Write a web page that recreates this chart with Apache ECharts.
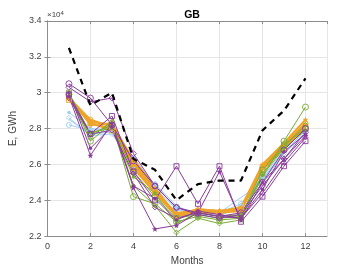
<!DOCTYPE html>
<html><head><meta charset="utf-8">
<script src="https://cdn.jsdelivr.net/npm/echarts@6/dist/echarts.min.js"></script>
<style>html,body{margin:0;padding:0;background:#fff}#c{width:361px;height:271px}</style>
</head><body><div id="c"></div>
<script>
const months = [1,2,3,4,5,6,7,8,9,10,11,12];
const xTicks = [0,2,4,6,8,10,12];
const yTicks = [2.2,2.4,2.6,2.8,3,3.2,3.4];
// black dashed reference
const ref = [32500,29300,30000,26300,25700,24000,24900,25100,25100,27900,29000,30800];
// purple group
const p1 = [30500,29700,28200,26200,24800,23600,23300,23100,23300,25000,26800,28000];
const p2 = [30300,29500,29700,26600,24800,23600,23200,23000,23200,24800,26300,27800];
const p3 = [29900,27700,28700,25600,24000,25900,23800,25900,22800,24200,25900,27300];
const p4 = [29800,26500,28300,24700,22400,22600,23300,25600,22900,25000,26300,27600];
const p5 = [30000,26900,28100,24800,24100,22900,23400,23200,23000,24600,26700,27700];
const p6 = [29700,27700,27900,25500,23600,23000,23300,23100,23000,24400,26100,27500];
// green group
const g1 = [29900,27300,28300,24200,23800,22800,23100,22900,23000,25300,27300,29200];
const g2 = [29900,27500,28400,24800,23700,22200,23000,22700,22900,25500,27000,28200];
const g3 = [30000,27700,28200,25600,24200,23000,23200,23000,23100,25700,27100,28000];
const g4 = [29800,27800,28000,25300,24400,22700,23300,23100,23200,25400,26900,27900];
// orange group
const o1 = [29700,28500,28100,26100,24600,23200,23400,23300,23500,25900,27100,28300];
const o2 = [29800,28300,28000,26300,24700,23100,23500,23400,23600,26000,27200,28500];
const o3 = [29700,28400,28200,26000,24400,23300,23400,23300,23400,25800,27000,28200];
const o4 = [29600,28300,27900,25800,24400,23100,23300,23300,23500,25700,26900,28100];
const o5 = [29800,28200,28300,26200,24600,23200,23500,23400,23500,25900,27100,28300];
// light blue group
const b1 = [28200,27900,28000,26200,24900,23500,23200,23300,23800,25300,26800,28000];
const b2 = [28900,28000,27900,26400,24800,23600,23300,23200,23600,25200,26700,27900];
const b3 = [28500,27700,27800,26000,24900,23700,23100,23300,null,25000,26600,27800];
const b4 = [28600,27600,27700,25900,24700,23500,23300,23100,23700,25200,26600,27700];

const STAR = 'path://M0,-10 L2.4,-3.1 L9.5,-3.1 L3.8,1.2 L5.9,8.1 L0,4 L-5.9,8.1 L-3.8,1.2 L-9.5,-3.1 L-2.4,-3.1 Z';
const PUR='#8B3A9C', GRN='#78AC34', ORG='#EEA42A', BLU='#9FCDF5';

function mk(data, color, symbol, width, size, filled){
  return {type:'line', data: months.map((m,i)=>[m,data[i]]), connectNulls:true,
    symbol: symbol, symbolSize: size||5, showSymbol:true,
    lineStyle:{color:color,width:width||1},
    itemStyle:{color: filled? color : 'rgba(0,0,0,0)', borderColor:color, borderWidth: filled?0:0.9},
    emphasis:{disabled:true}, animation:false, z:2};
}
const series = [
  mk(b1,BLU,'circle'), mk(b2,BLU,'circle',1,3.5,true), mk(b3,BLU,'none'), mk(b4,BLU,'diamond'),
  mk(o4,ORG,'rect',2), mk(o3,ORG,'circle',2,3.5,true), mk(o5,ORG,'diamond',2), mk(o2,ORG,STAR,2,6,true), mk(o1,ORG,'circle',2),
  mk(g4,GRN,'circle',1,3.5,true), mk(g3,GRN,'rect'), mk(g2,GRN,'diamond'), mk(g1,GRN,'circle',1,6),
  mk(p6,PUR,'diamond'), mk(p5,PUR,'circle',1,3.5,true), mk(p4,PUR,STAR,1,6,true), mk(p3,PUR,'rect'), mk(p2,PUR,'diamond',1,6), mk(p1,PUR,'circle',1,6),
  {type:'line', data: months.map((m,i)=>[m,ref[i]]), symbol:'none', lineStyle:{color:'#000',width:2.2,type:[6,5]}, animation:false, z:5}
];
const axisCol='#8c8c8c', labCol='#404040';
const chart = echarts.init(document.getElementById('c'), null, {renderer:'canvas'});
chart.setOption({
  backgroundColor:'#fff',
  animation:false,
  title:{text:'GB', left:187, top:5, textAlign:'center', textStyle:{fontFamily:'Liberation Sans',fontSize:10.5,fontWeight:'bold',color:'#000'}},
  grid:{left:47, top:21, right:34, bottom:30, containLabel:false},
  xAxis:[{type:'value', min:0, max:13, interval:2, name:'Months', nameLocation:'middle', nameGap:17,
    nameTextStyle:{fontFamily:'Liberation Sans',fontSize:10,color:labCol},
    axisLine:{show:true,lineStyle:{color:axisCol}}, axisTick:{show:true,inside:true,length:3,lineStyle:{color:axisCol}},
    axisLabel:{showMaxLabel:false, color:labCol, fontFamily:'Liberation Sans', fontSize:9, margin:6,
      formatter:v=> xTicks.includes(v)? String(v):''},
    splitLine:{show:true,lineStyle:{color:'#e6e6e6'}}},
   {type:'value', position:'top', min:0, max:13, interval:2, axisLine:{show:true,lineStyle:{color:axisCol}},
    axisTick:{show:true,inside:true,length:3,lineStyle:{color:axisCol}}, axisLabel:{show:false}, splitLine:{show:false}}],
  yAxis:[{type:'value', min:22000, max:34000, interval:2000, name:'E, GWh', nameLocation:'middle', nameGap:29,
    nameTextStyle:{fontFamily:'Liberation Sans',fontSize:10,color:labCol},
    axisLine:{show:true,lineStyle:{color:axisCol}}, axisTick:{show:true,inside:true,length:3,lineStyle:{color:axisCol}},
    axisLabel:{color:labCol, fontFamily:'Liberation Sans', fontSize:9, margin:6,
      formatter:v=>{const t=Math.round(v/1000)/10; return yTicks.includes(t)? String(t):'';}},
    splitLine:{show:true,lineStyle:{color:'#e6e6e6'}}},
   {type:'value', position:'right', min:22000, max:34000, interval:2000, axisLine:{show:true,lineStyle:{color:axisCol}},
    axisTick:{show:true,inside:true,length:3,lineStyle:{color:axisCol}}, axisLabel:{show:false}, splitLine:{show:false}}],
  graphic:[{type:'text', left:47, top:10, style:{text:'×10{s|4}', rich:{s:{fontSize:6, verticalAlign:'top', padding:[0,0,4,0], fill:labCol}}, fontFamily:'Liberation Sans', fontSize:8, fill:labCol}}],
  series: series
});
</script></body></html>
